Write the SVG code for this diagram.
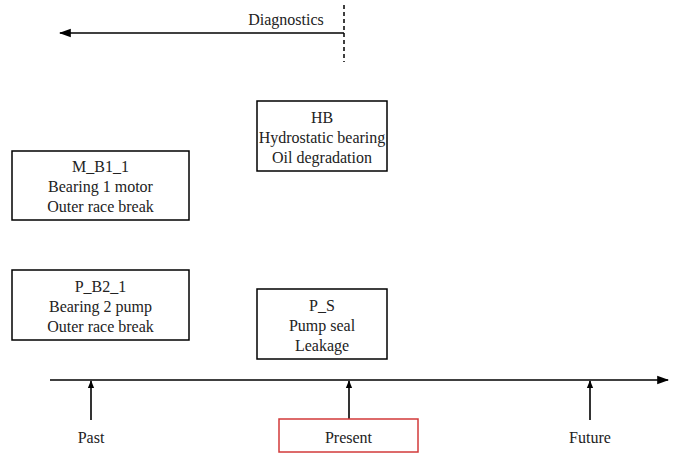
<svg xmlns="http://www.w3.org/2000/svg" width="677" height="453" viewBox="0 0 677 453">
<style>
.box{fill:#fff;stroke:#000;stroke-width:1.5}
.t{font-family:"Liberation Serif","Times New Roman",serif;font-size:16px;fill:#222;text-anchor:middle}
.ln{stroke:#000;stroke-width:1.6;fill:none}
</style>
<defs>
<marker id="ah" viewBox="0 0 10 10" refX="9" refY="5" markerWidth="8" markerHeight="8" markerUnits="userSpaceOnUse" orient="auto">
<path d="M0,1 L10,5 L0,9 z" fill="#000"/>
</marker>
<marker id="ah2" viewBox="0 0 10 10" refX="9" refY="5" markerWidth="12" markerHeight="12" markerUnits="userSpaceOnUse" orient="auto">
<path d="M0,1.5 L10,5 L0,8.5 z" fill="#000"/>
</marker>
</defs>
<rect width="677" height="453" fill="#fff"/>
<g id="connectors">
<line class="ln" x1="344" y1="33" x2="60" y2="33" marker-end="url(#ah2)"/>
<line x1="344" y1="5" x2="344" y2="62" stroke="#000" stroke-width="1.5" stroke-dasharray="4,3"/>
<line class="ln" x1="50" y1="380" x2="668" y2="380" marker-end="url(#ah2)"/>
<line class="ln" x1="91" y1="420" x2="91" y2="381" marker-end="url(#ah)"/>
<line class="ln" x1="349" y1="419" x2="349" y2="381" marker-end="url(#ah)"/>
<line class="ln" x1="590" y1="420" x2="590" y2="381" marker-end="url(#ah)"/>
</g>
<text class="t" x="286" y="25">Diagnostics</text>
<g id="HB">
<rect class="box" x="257" y="101" width="130" height="70"/>
<text class="t" x="322" y="123">HB</text>
<text class="t" x="322" y="143">Hydrostatic bearing</text>
<text class="t" x="322" y="163">Oil degradation</text>
</g>
<g id="M_B1_1">
<rect class="box" x="12" y="151" width="177" height="69"/>
<text class="t" x="100.5" y="172">M_B1_1</text>
<text class="t" x="100.5" y="192">Bearing 1 motor</text>
<text class="t" x="100.5" y="212">Outer race break</text>
</g>
<g id="P_B2_1">
<rect class="box" x="12" y="270" width="177" height="70"/>
<text class="t" x="100.5" y="292">P_B2_1</text>
<text class="t" x="100.5" y="312">Bearing 2 pump</text>
<text class="t" x="100.5" y="332">Outer race break</text>
</g>
<g id="P_S">
<rect class="box" x="257" y="289" width="130" height="70"/>
<text class="t" x="322" y="311">P_S</text>
<text class="t" x="322" y="331">Pump seal</text>
<text class="t" x="322" y="351">Leakage</text>
</g>
<g id="Past">
<text class="t" x="91" y="443">Past</text>
</g>
<g id="Present">
<rect x="279" y="419" width="139" height="33" fill="#fff" stroke="#d23a3a" stroke-width="1.5"/>
<text class="t" x="348.5" y="443">Present</text>
</g>
<g id="Future">
<text class="t" x="590" y="443">Future</text>
</g>
</svg>
